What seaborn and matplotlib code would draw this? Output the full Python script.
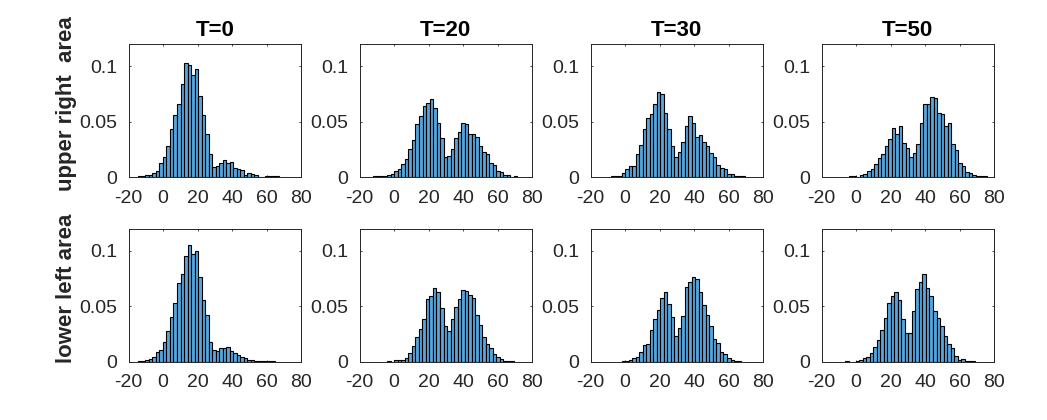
import numpy as np
import seaborn as sns
import matplotlib.pyplot as plt

sns.set_theme(style='ticks')
plt.rcParams['font.family'] = ['Liberation Sans', 'DejaVu Sans']
plt.rcParams['axes.unicode_minus'] = False

titles = ['T=0', 'T=20', 'T=30', 'T=50']
row_labels = ['upper right  area', 'lower left area']
xticks = [-20, 0, 20, 40, 60, 80]
yticks = [0, 0.05, 0.1]
yticklabels = ['0', '0.05', '0.1']
bin_width = 2.04

# left edge of the first bin in each panel
upper_start = [-14.4, -12.1, -8.2, -3.9]
lower_start = [-14.4, -4.0, -2.1, -6.4]

upper_t0 = [.0005, .0005, .0015, .0015, .0033, .005, .013, .018, .028, .043, .056, .066, .084,
            .1025, .101, .092, .097, .0735, .0555, .039, .0205, .0087, .01, .0123, .015, .0129,
            .0135, .0078, .007, .006, .002, .0033, .0027, .0015, .0003, .0003, .0005, .0005, .0005, .0005]
upper_t20 = [.0005, .0005, .0005, .0005, .0015, .0025, .005, .007, .012, .016, .025, .033, .0475,
             .0547, .0645, .0664, .07, .062, .049, .035, .0177, .0186, .025, .035, .041, .049,
             .0475, .0385, .0385, .0357, .0276, .023, .0205, .013, .0105, .005, .0042, .0018,
             .0018, 0, .0006]
upper_t30 = [.0005, .0005, .0005, .0033, .007, .0096, .0096, .0205, .0285, .043, .053, .0565, .0655,
             .077, .0745, .058, .043, .0276, .0177, .023, .032, .0456, .0547, .049, .0357, .0375,
             .032, .0276, .022, .0177, .0105, .0078, .007, .0024, .0024, .0006, .0006, .0006]
upper_t50 = [.0006, .0006, 0, .0015, .0024, .005, .007, .0114, .0168, .0205, .0276, .034, .0438,
             .039, .0456, .031, .026, .0177, .022, .03, .049, .0655, .0655, .0718, .071, .058,
             .057, .0456, .049, .03, .024, .013, .0096, .0042, .0033, .0015, .0005, .0005, .0005]
lower_t0 = [.0005, .0005, .0015, .0024, .0042, .0087, .0105, .0177, .0276, .04, .053, .071, .079,
            .095, .105, .097, .0997, .076, .0555, .042, .0177, .0105, .0096, .0123, .0123, .0132,
            .0096, .0078, .006, .0042, .0033, .0015, .0015, .0006, .0005, .0005, .0005, .0005, .0005]
lower_t20 = [.0006, 0, .0015, .0015, .0015, .0033, .0078, .014, .0222, .0294, .0385, .0565, .059,
             .0664, .0628, .0483, .032, .0276, .0385, .049, .0565, .0645, .0637, .06, .0574, .042,
             .033, .0222, .016, .0123, .007, .0042, .0024, .0006, .0006, .0006]
lower_t30 = [.0006, .0008, .0015, .0033, .0042, .0087, .015, .016, .0285, .0385, .0465, .0574, .0628,
             .052, .04, .023, .03, .041, .0673, .0718, .0763, .0745, .0628, .051, .042, .032,
             .0204, .0168, .0087, .007, .0033, .0015, .0006, .0006]
lower_t50 = [.0006, 0, 0, .0006, .0015, .0033, .0042, .0078, .0132, .0198, .0282, .0396, .0528,
             .0591, .0628, .0555, .0385, .026, .026, .0456, .0655, .0718, .0793, .0664, .0591,
             .0456, .039, .0321, .0231, .0159, .0123, .0051, .0015, .0024, .0005, .0005, .0005]

rows = [[upper_t0, upper_t20, upper_t30, upper_t50],
        [lower_t0, lower_t20, lower_t30, lower_t50]]
starts = [upper_start, lower_start]

fig = plt.figure(figsize=(10.47, 4.2), dpi=100)
lefts = [128.7, 359.7, 590.7, 821.7]
tops = [44, 228.7]
w, h = 172.3, 133

for r in range(2):
    for c in range(4):
        ax = fig.add_axes([lefts[c] / 1047, 1 - (tops[r] + h) / 420, w / 1047, h / 420])
        heights = np.array(rows[r][c])
        edges = starts[r][c] + bin_width * np.arange(len(heights) + 1)
        centers = (edges[:-1] + edges[1:]) / 2
        # seaborn compares bins to "auto" when weights are given, so it has to be a list
        sns.histplot(x=centers, weights=heights, bins=list(edges), color='#56a5dc', alpha=1,
                     edgecolor='black', linewidth=0.8, ax=ax)
        ax.set_xlim(-20, 80)
        ax.set_ylim(0, 0.12)
        ax.set_xticks(xticks)
        ax.set_yticks(yticks)
        ax.set_yticklabels(yticklabels)
        ax.tick_params(direction='in', top=True, right=True, length=1.5, width=0.6,
                       color='#262626', labelcolor='#262626', labelsize=14)
        ax.tick_params(axis='x', pad=9)
        ax.tick_params(axis='y', pad=8.5)
        for s in ax.spines.values():
            s.set_visible(True)
            s.set_linewidth(0.7)
            s.set_color('#262626')
        ax.set_ylabel('')
        if r == 0:
            ax.set_title(titles[c], fontsize=16, fontweight='bold', color='black', pad=6)
        if c == 0:
            ax.set_ylabel(row_labels[r], fontsize=16, fontweight='bold', color='#262626')
            ax.yaxis.set_label_coords(-0.30, 0.553)

fig.savefig('out.png', dpi=100)
